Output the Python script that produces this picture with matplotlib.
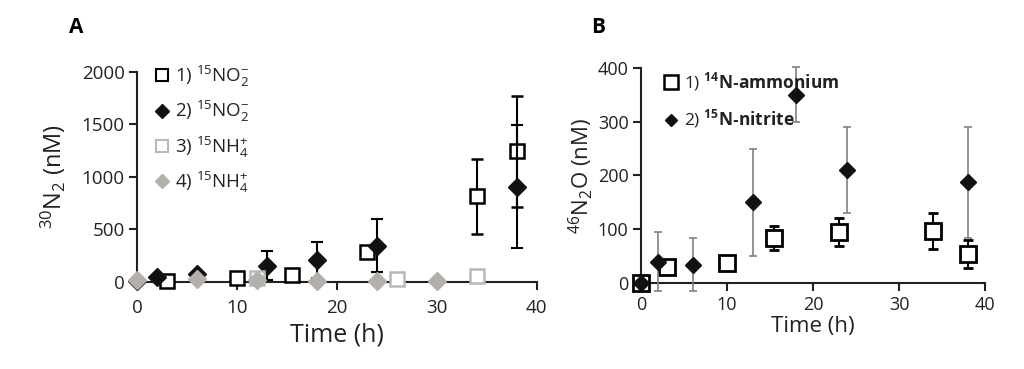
import matplotlib
matplotlib.use("Agg")
import matplotlib.pyplot as plt
from matplotlib.lines import Line2D
import numpy as np

plt.rcParams['font.family'] = ['Open Sans', 'DejaVu Sans']
plt.rcParams['mathtext.fontset'] = 'custom'
plt.rcParams['mathtext.rm'] = 'Open Sans'
plt.rcParams['mathtext.bf'] = 'Open Sans:bold'
plt.rcParams['mathtext.default'] = 'rm'

# panel A: 30N2 (nM)
a1_t = [3, 10, 15.5, 23, 34, 38]
a1_y = [10, 35, 70, 285, 815, 1245]
a1_e = [10, 35, 30, 15, 360, 530]

a2_t = [0, 2, 6, 13, 18, 24, 38]
a2_y = [10, 45, 75, 155, 210, 345, 905]
a2_e = [10, 10, 10, 140, 170, 255, 585]

a3_t = [12, 26, 34]
a3_y = [35, 30, 55]
a3_e = [15, 10, 15]

a4_t = [0, 6, 12, 18, 24, 30]
a4_y = [20, 25, 15, 10, 10, 10]

a_labels = [r'1) $^{15}$NO$_2^{-}$', r'2) $^{15}$NO$_2^{-}$',
            r'3) $^{15}$NH$_4^{+}$', r'4) $^{15}$NH$_4^{+}$']

# panel B: 46N2O (nM)
b1_t = [0, 3, 10, 15.5, 23, 34, 38]
b1_y = [0, 29, 38, 84, 95, 97, 54]
b1_e = [0, 8, 5, 22, 26, 33, 26]

b2_t = [0, 2, 6, 13, 18, 24, 38]
b2_y = [0, 40, 34, 150, 350, 210, 187]
b2_e = [0, 55, 49, 100, 51, 80, 104]

b_labels = ['1) $\\mathbf{^{14}N\u2010ammonium}$', '2) $\\mathbf{^{15}N\u2010nitrite}$']

tick_col = '#222222'

fig = plt.figure(figsize=(10.24, 3.69), dpi=100)
axA = fig.add_axes([0.134, 0.236, 0.390, 0.569])
axB = fig.add_axes([0.626, 0.233, 0.336, 0.583])

# ---- panel A
axA.errorbar(a1_t, a1_y, yerr=a1_e, fmt='s', ms=10, mfc='white', mec='black', mew=1.8,
             ecolor='black', elinewidth=1.5, capsize=4, capthick=1.5, clip_on=False, zorder=3)
axA.errorbar(a2_t, a2_y, yerr=a2_e, fmt='D', ms=9.5, mfc='#111111', mec='#111111',
             ecolor='black', elinewidth=1.5, capsize=4, capthick=1.5, clip_on=False, zorder=4)
axA.errorbar(a3_t, a3_y, yerr=a3_e, fmt='s', ms=10, mfc='white', mec='#b8b8b8', mew=1.8,
             ecolor='#b0b0b0', elinewidth=1.5, capsize=4, capthick=1.5, clip_on=False, zorder=5)
axA.plot(a4_t, a4_y, 'D', ms=9.5, color='#b3b0ac', clip_on=False, zorder=6)

axA.set_xlim(0, 40)
axA.set_ylim(0, 2000)
axA.set_xticks([0, 10, 20, 30, 40])
axA.set_yticks([0, 500, 1000, 1500, 2000])
axA.spines['top'].set_visible(False)
axA.spines['right'].set_visible(False)
for s in ['left', 'bottom']:
    axA.spines[s].set_linewidth(1.5)
    axA.spines[s].set_color(tick_col)
axA.tick_params(direction='out', length=6, width=1.5, labelsize=13.5, colors=tick_col, pad=3)
axA.tick_params(axis='x', pad=6)
axA.set_xlabel('Time (h)', fontsize=18, color=tick_col, labelpad=4)
axA.set_ylabel(r'$^{30}$N$_2$ (nM)', fontsize=17, color=tick_col, labelpad=10)

hA = [Line2D([], [], ls='none', marker='s', ms=9, mfc='white', mec='black', mew=1.5),
      Line2D([], [], ls='none', marker='D', ms=7.5, mfc='#111111', mec='#111111'),
      Line2D([], [], ls='none', marker='s', ms=9, mfc='white', mec='#b8b8b8', mew=1.5),
      Line2D([], [], ls='none', marker='D', ms=7.5, mfc='#b3b0ac', mec='#b3b0ac')]
legA = axA.legend(hA, a_labels, loc='upper left', bbox_to_anchor=(0.03, 1.075), frameon=False,
                  fontsize=13.5, handlelength=0.6, handletextpad=0.35, labelspacing=0.55,
                  borderaxespad=0)
for t in legA.get_texts():
    t.set_color(tick_col)

# ---- panel B
axB.errorbar(b1_t, b1_y, yerr=b1_e, fmt='s', ms=11, mfc='white', mec='black', mew=2,
             ecolor='black', elinewidth=1.5, capsize=3.5, capthick=1.5, clip_on=False, zorder=3)
axB.errorbar(b2_t, b2_y, yerr=b2_e, fmt='D', ms=8, mfc='#111111', mec='#111111',
             ecolor='#808080', elinewidth=1.2, capsize=3, capthick=1.2, clip_on=False, zorder=4)

axB.set_xlim(0, 40)
axB.set_ylim(0, 400)
axB.set_xticks([0, 10, 20, 30, 40])
axB.set_yticks([0, 100, 200, 300, 400])
axB.spines['top'].set_visible(False)
axB.spines['right'].set_visible(False)
for s in ['left', 'bottom']:
    axB.spines[s].set_linewidth(1.5)
    axB.spines[s].set_color(tick_col)
axB.tick_params(direction='out', length=6, width=1.5, labelsize=13, colors=tick_col, pad=3)
axB.set_xlabel('Time (h)', fontsize=16, color=tick_col, labelpad=2)
axB.set_ylabel(r'$^{46}$N$_2$O (nM)', fontsize=16, color=tick_col, labelpad=2)

hB = [Line2D([], [], ls='none', marker='s', ms=10, mfc='white', mec='black', mew=1.8),
      Line2D([], [], ls='none', marker='D', ms=6, mfc='#111111', mec='#111111')]
legB = axB.legend(hB, b_labels, loc='upper left', bbox_to_anchor=(0.05, 1.02), frameon=False,
                  fontsize=12.5, handlelength=0.7, handletextpad=0.4, labelspacing=0.9,
                  borderaxespad=0)
for t in legB.get_texts():
    t.set_color(tick_col)

fig.text(0.067, 0.91, 'A', fontsize=15, fontweight='bold')
fig.text(0.577, 0.91, 'B', fontsize=15, fontweight='bold')

fig.savefig('out.png', dpi=100)
